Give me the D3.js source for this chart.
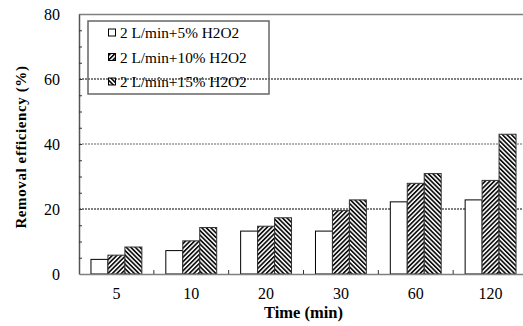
<!DOCTYPE html>
<html><head><meta charset="utf-8">
<script src="https://cdn.jsdelivr.net/npm/d3@7"></script>
<style>body{margin:0;background:#fff}svg{display:block}</style>
</head><body>
<svg id="c" width="523" height="326"></svg>
<script>
const categories = ["5","10","20","30","60","120"];
const seriesNames = ["2 L/min+5% H2O2","2 L/min+10% H2O2","2 L/min+15% H2O2"];
const s5  = [4.5, 7.2, 13.2, 13.2, 22.2, 22.8];
const s10 = [5.8, 10.2, 14.7, 19.5, 27.9, 28.8];
const s15 = [8.3, 14.3, 17.3, 22.8, 30.9, 43.0];
const yTicks = [0, 20, 40, 60, 80];
const seriesValues = [s5, s10, s15];

const svg = d3.select("#c");
const L = 79, R = 528, T = 14, B = 274;
const x = d3.scaleBand().domain(categories).range([L, R]).paddingInner(0.32).paddingOuter(0.16);
const x1 = d3.scaleBand().domain(seriesNames).range([0, x.bandwidth()]);
const y = d3.scaleLinear().domain([0, 80]).range([B, T]);

const defs = svg.append("defs");
function hatch(id, angle) {
  const p = defs.append("pattern").attr("id", id).attr("patternUnits", "userSpaceOnUse")
    .attr("width", 3.2).attr("height", 3.2).attr("patternTransform", `rotate(${angle})`);
  p.append("rect").attr("width", 3.2).attr("height", 3.2).attr("fill", "#fff");
  p.append("rect").attr("width", 1.7).attr("height", 3.2).attr("fill", "#111");
}
hatch("h1", 45);
hatch("h2", -45);
const fills = ["#fff", "url(#h1)", "url(#h2)"];

// gridlines
const gridStyles = {20: ["#000", "2,1", 1], 40: ["#999", "2,1", 1.5], 60: ["#000", "2,1", 1]};
[20, 40, 60].forEach(v => {
  svg.append("line").attr("x1", L).attr("x2", R).attr("y1", y(v)).attr("y2", y(v))
    .attr("stroke", gridStyles[v][0]).attr("stroke-dasharray", gridStyles[v][1])
    .attr("stroke-width", gridStyles[v][2]);
});

// top border
svg.append("line").attr("x1", L).attr("x2", R).attr("y1", T + 0.5).attr("y2", T + 0.5)
  .attr("stroke", "#808080").attr("stroke-width", 1.5);

// bars
const g = svg.append("g");
categories.forEach((c, i) => {
  seriesNames.forEach((s, k) => {
    const v = seriesValues[k][i];
    g.append("rect")
      .attr("x", x(c) + x1(s)).attr("y", y(v))
      .attr("width", x1.bandwidth()).attr("height", y(0) - y(v))
      .attr("fill", fills[k]).attr("stroke", k === 0 ? "#000" : "#333").attr("stroke-width", 1);
  });
});

// y axis with labels
const yAxis = d3.axisLeft(y).tickValues(yTicks).tickSize(0).tickPadding(19).tickFormat(d3.format("d"));
const ya = svg.append("g").attr("transform", `translate(${L},0)`).call(yAxis);
ya.select(".domain").attr("stroke", "#555").attr("stroke-width", 1.5);
ya.selectAll("text").attr("font-family", "Liberation Serif, serif").attr("font-size", 16).attr("fill", "#000");

// minor ticks inward
const yMinor = d3.axisRight(y).tickValues(d3.range(5, 80, 5)).tickSize(3).tickFormat("");
const ym = svg.append("g").attr("transform", `translate(${L},0)`).call(yMinor);
ym.select(".domain").remove();
ym.selectAll("line").attr("stroke", "#333");

// x axis
const xAxis = d3.axisBottom(x).tickSize(0).tickPadding(14);
const xa = svg.append("g").attr("transform", `translate(0,${B})`).call(xAxis);
xa.select(".domain").attr("stroke", "#808080").attr("stroke-width", 1.5);
xa.selectAll("text").attr("font-family", "Liberation Serif, serif").attr("font-size", 16).attr("fill", "#000");
// category boundary ticks (upward)
const step = x.step();
categories.slice(1).forEach((c, i) => {
  const bx = L + step * (i + 1);
  svg.append("line").attr("x1", bx).attr("x2", bx).attr("y1", B).attr("y2", B - 4)
    .attr("stroke", "#333").attr("stroke-width", 1);
});

// axis titles
svg.append("text").attr("x", (L + R) / 2).attr("y", 318).attr("text-anchor", "middle")
  .attr("font-family", "Liberation Serif, serif").attr("font-weight", "bold").attr("font-size", 16.5)
  .text("Time (min)");
svg.append("text").attr("transform", "translate(26,147) rotate(-90)").attr("text-anchor", "middle")
  .attr("font-family", "Liberation Serif, serif").attr("font-weight", "bold").attr("font-size", 15)
  .attr("letter-spacing", 0.6)
  .text("Removal efficiency (%)");

// legend
const lg = svg.append("g");
lg.append("rect").attr("x", 88).attr("y", 21).attr("width", 181).attr("height", 73)
  .attr("fill", "none").attr("stroke", "#666").attr("stroke-width", 1.5);
seriesNames.forEach((s, k) => {
  const cy = 33 + k * 24.5;
  lg.append("rect").attr("x", 108.5).attr("y", cy - 4).attr("width", 7).attr("height", 7)
    .attr("fill", fills[k]).attr("stroke", "#000").attr("stroke-width", 1);
  lg.append("text").attr("x", 120).attr("y", cy + 5)
    .attr("font-family", "Liberation Serif, serif").attr("font-size", 15.3).text(s);
});
</script>
</body></html>
